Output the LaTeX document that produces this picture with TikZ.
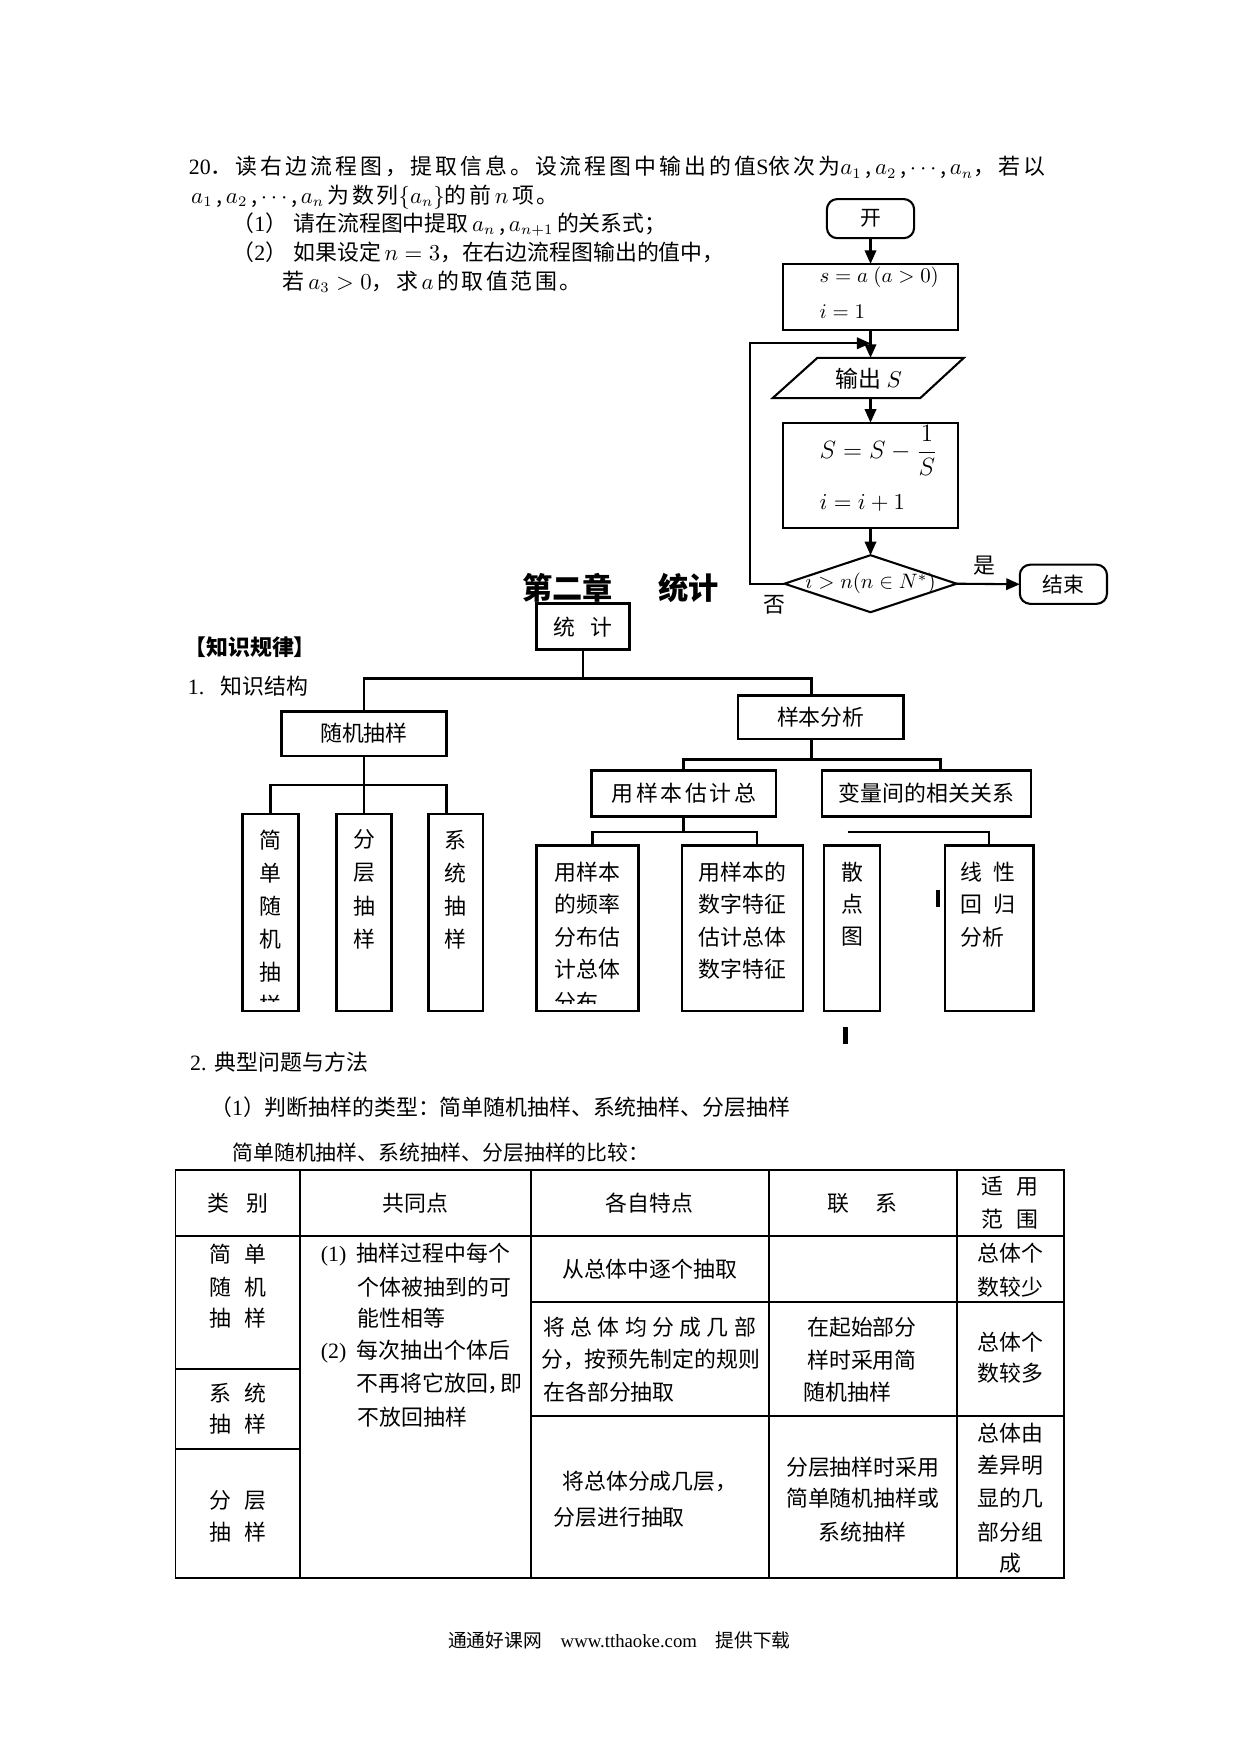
\documentclass[tikz,border=0pt]{standalone}
\usepackage{fontspec}
\setmainfont{Liberation Serif}
\newfontfamily\cjk{Noto Sans CJK SC}
\newfontfamily\cjkls[LetterSpace=12]{Noto Sans CJK SC}
\newfontfamily\cjklsw[LetterSpace=14]{Noto Sans CJK SC}
\usetikzlibrary{arrows.meta,shapes.geometric,calc}
\tikzset{
  bare/.style={inner sep=0pt, outer sep=0pt},
  sz/.style 2 args={minimum width=#1*0.5367pt, minimum height=#2*0.5367pt},
  para/.style={bare, anchor=west, font=\cjkls\fontsize{10.5}{12}\selectfont},
  zh/.style={bare, font=\cjk\fontsize{10.5}{12}\selectfont},
  zhw/.style={zh, anchor=west},
  cell/.style={bare, font=\cjk\fontsize{10.5}{12}\selectfont},
  cellw/.style={cell, anchor=west},
  flowbox/.style={draw, line width=1pt, bare, anchor=north west},
  treebox/.style={draw, line width=1.3pt, bare, anchor=north west, font=\cjk\fontsize{10.5}{12}\selectfont},
  treeline/.style={line width=1.3pt},
  flowarrow/.style={line width=1pt, -{Triangle[length=6.5pt,width=5.5pt]}},
  flowline/.style={line width=1pt},
  gridline/.style={line width=0.9pt},
  mathtext/.style={bare, font=\fontsize{10}{12}\selectfont},
}
\begin{document}
\begin{tikzpicture}[x=0.5367pt, y=-0.5367pt]
\fill[white] (0,0) rectangle (1109,1568.6);
\useasboundingbox (0,0) rectangle (1109,1568.6);

% ---------- problem text ----------
\node[para, font=\cjklsw\fontsize{10.5}{12}\selectfont] (q1) at (169,150) {{\rmfamily 20}．读右边流程图，提取信息。设流程图中输出的值{\rmfamily S}依次为$a_1$\,,\,$a_2$\,,\,$\cdots$\,,\,$a_n$，若以};
\node[para] (q2) at (171,176) {$a_1$\,,\,$a_2$\,,\,$\cdots$\,,\,$a_n$\,为数列$\{a_n\}$的前\,$n$\,项。};
\node[zhw] (q3) at (208,201) {（{\rmfamily 1}）\hspace{3pt}请在流程图中提取\,$a_n$\,,\,$a_{n+1}$\,的关系式；};
\node[zhw] (q4) at (208,226) {（{\rmfamily 2}）\hspace{3pt}如果设定\,$n=3$，在右边流程图输出的值中，};
\node[para] (q5) at (253,252) {若\,$a_3>0$，求\,$a$\,的取值范围。};

% ---------- flowchart ----------
\node[flowbox, rounded corners=5pt, sz={78}{35}, font=\cjk\fontsize{10}{12}\selectfont] (start) at (739.5,178) {开};
\node[flowbox, sz={157}{59}] (init) at (700,236) {};
\node[mathtext, anchor=west] (initA) at (733,248) {$s=a\ (a>0)$};
\node[mathtext, anchor=west] (initB) at (733,279) {$i=1$};
\node[bare, font=\cjk\fontsize{11}{12}\selectfont] (out) at (777,339) {输出\ $S$};
\draw[flowline] (731,320) -- (862,320) -- (823,356) -- (691,356) -- cycle;
\coordinate (outTop) at (778.5,320);
\coordinate (outBot) at (778.5,356);
\node[flowbox, sz={157}{94}] (upd) at (700,378) {};
\node[mathtext, anchor=west, font=\fontsize{11.5}{13}\selectfont] (updA) at (733,403) {$S=S-\displaystyle\frac{1}{S}$};
\node[mathtext, anchor=west, font=\fontsize{10.5}{12}\selectfont] (updB) at (733,450) {$i=i+1$};
\node[draw, diamond, line width=1pt, bare, sz={154}{51}] (test) at (778.5,522) {};
\node[bare, font=\fontsize{9.8}{11}\selectfont] (cond) at (778.5,522) {$i>n(n\in N^{*})$};
\node[flowbox, rounded corners=5pt, sz={78}{35}, font=\cjk\fontsize{10}{12}\selectfont] (stop) at (912,505) {结束};
\node[zh] (yes) at (880,506) {是};
\node[zh] (no) at (693,541) {否};
\coordinate (loopC) at (671,307);
\coordinate (loopIn) at (778.5,307);
\draw[flowarrow] (start.south) -- (init.north);
\draw[flowarrow] (init.south) -- (outTop);
\draw[flowarrow] (outBot) -- (upd.north);
\draw[flowarrow] (upd.south) -- (test.north);
\draw[flowarrow] (test.east) -- (stop.west);
\draw[flowarrow] (test.west) -| (loopC) -- (loopIn);

% ---------- headings ----------
\node[bare, anchor=west, font=\cjk\bfseries\fontsize{14.5}{16}\selectfont] (title) at (467,526) {第二章\hspace{1.5em}统计};
\node[bare, anchor=west, font=\cjk\bfseries\fontsize{10.5}{12}\selectfont] (kgl) at (165,579) {【知识规律】};
\node[zhw] (k1) at (168,614) {{\rmfamily 1.}\hspace{8pt}知识结构};

% ---------- knowledge tree ----------
\node[treebox, sz={83}{41}] (stat) at (480,540) {统\hspace{0.7em}计};
\node[treebox, sz={147}{40}] (rand) at (252,636) {随机抽样};
\node[treebox, sz={148}{39}] (anal) at (660,622) {样本分析};
\node[treebox, sz={165}{41}, font=\cjkls\fontsize{10.5}{12}\selectfont] (est) at (529,689) {用样本估计总};
\node[treebox, sz={187}{41}] (corr) at (735,689) {变量间的相关关系};
\node[treebox, sz={50}{176}] (simp) at (217,728) {};
\node[treebox, sz={49}{176}] (strat) at (301,728) {};
\node[treebox, sz={49}{176}] (syst) at (383,728) {};
\node[treebox, sz={91}{148}] (freq) at (480,756) {};
\node[treebox, sz={108}{148}] (num) at (610,756) {};
\node[treebox, sz={50}{148}] (scat) at (737,756) {};
\node[treebox, sz={79}{148}] (lin) at (845,756) {};

\begin{scope}
\clip (217,728) rectangle (267,896);
\foreach \c [count=\i] in {简,单,随,机,抽,样}
  \node[zh] (simp\i) at (242,{751+(\i-1)*29.5}) {\c};
\end{scope}
\foreach \c [count=\i] in {分,层,抽,样}
  \node[zh] (strat\i) at (325.5,{751+(\i-1)*29.5}) {\c};
\foreach \c [count=\i] in {系,统,抽,样}
  \node[zh] (syst\i) at (407.5,{751+(\i-1)*29.5}) {\c};
\begin{scope}
\clip (480,756) rectangle (571,897);
\foreach \c [count=\i] in {用样本,的频率,分布估,计总体,分布}
  \node[zhw] (freq\i) at (496,{780+(\i-1)*29}) {\c};
\end{scope}
\foreach \c [count=\i] in {用样本的,数字特征,估计总体,数字特征}
  \node[zhw] (num\i) at (625,{780+(\i-1)*29}) {\c};
\foreach \c [count=\i] in {散,点,图}
  \node[zh] (scat\i) at (762,{780+(\i-1)*29}) {\c};
\foreach \c [count=\i] in {线\hspace{0.5em}性,回\hspace{0.5em}归,分析}
  \node[zhw] (lin\i) at (859,{780+(\i-1)*29}) {\c};

\coordinate (topJ) at (521.5,607);
\draw[treeline] (stat.south) -- (topJ);
\draw[treeline] (rand.north) |- (topJ) -| ($(anal.north)+(-8,0)$);
\coordinate (randJ) at (325.5,702);
\draw[treeline] (rand.south) -- (strat.north);
\draw[treeline] (simp.north) |- (randJ) -| ($(syst.north)+(-8.5,0)$);
\coordinate (analJ) at (726,679);
\draw[treeline] ($(anal.south)+(-8,0)$) -- (analJ);
\draw[treeline] (est.north) |- (analJ) -| ($(corr.north)+(12.5,0)$);
\coordinate (estJ) at (611.5,744);
\draw[treeline] (est.south) -- (estJ);
\draw[treeline] ($(freq.north)+(4.5,0)$) |- (estJ) -| ($(num.north)+(13,0)$);
\coordinate (stubL) at (758,744);
\draw[treeline] (stubL) -| (lin.north);
\fill (837,796) rectangle (841,811);
\fill (754,918) rectangle (758,934);

% ---------- section 2 ----------
\node[zhw] (sec2) at (170,949.5) {{\rmfamily 2.}\hspace{4pt}典型问题与方法};
\node[zhw] (sec2a) at (188,990) {（{\rmfamily 1}）判断抽样的类型：简单随机抽样、系统抽样、分层抽样};
\node[zhw, font=\cjk\fontsize{10}{12}\selectfont] (cmp) at (208,1031) {简单随机抽样、系统抽样、分层抽样的比较：};

% ---------- table ----------
\draw[gridline] (157,1046) rectangle (951.5,1411.5);
\draw[gridline] (157,1105.5) -- (951.5,1105.5);
\draw[gridline] (157,1224) -- (268.5,1224);
\draw[gridline] (157,1296) -- (268.5,1296);
\draw[gridline] (475,1164) -- (951.5,1164);
\draw[gridline] (475,1266) -- (951.5,1266);
\foreach \x in {268.5,475,687.5,855.5} \draw[gridline] (\x,1046) -- (\x,1411.5);

\node[cell] (hType) at (213,1076) {类\hspace{0.8em}别};
\node[cell] (hCommon) at (371.5,1076) {共同点};
\node[cell] (hFeat) at (581,1076) {各自特点};
\node[cell] (hLink) at (771.5,1076) {联\hspace{1.2em}系};
\node[cell] (hScopeA) at (903.5,1061) {适\hspace{0.6em}用};
\node[cell] (hScopeB) at (903.5,1090.5) {范\hspace{0.6em}围};

\node[cell] (r1a) at (213,1122) {简\hspace{0.6em}单};
\node[cell] (r1b) at (213,1151) {随\hspace{0.6em}机};
\node[cell] (r1c) at (213,1179) {抽\hspace{0.6em}样};
\node[cell] (r2a) at (213,1246) {系\hspace{0.6em}统};
\node[cell] (r2b) at (213,1274) {抽\hspace{0.6em}样};
\node[cell] (r3a) at (213,1341.6) {分\hspace{0.6em}层};
\node[cell] (r3b) at (213,1370) {抽\hspace{0.6em}样};

\node[cellw] (c2a) at (287,1122) {{\rmfamily (1)}\hspace{5pt}抽样过程中每个};
\node[cellw] (c2b) at (320,1151) {个体被抽到的可};
\node[cellw] (c2c) at (320,1179) {能性相等};
\node[cellw] (c2d) at (287,1209) {{\rmfamily (2)}\hspace{5pt}每次抽出个体后};
\node[cellw] (c2e) at (319,1237) {不再将它放回，\hspace{-0.45em}即};
\node[cellw] (c2f) at (320,1267) {不放回抽样};

\node[cell] (c3a) at (581,1135) {从总体中逐个抽取};
\node[cellw] (c3b) at (486,1186.5) {\makebox[102pt]{将\hfill 总\hfill 体\hfill 均\hfill 分\hfill 成\hfill 几\hfill 部}};
\node[cellw] (c3c) at (484,1216) {分，按预先制定的规则};
\node[cellw] (c3d) at (486,1245) {在各部分抽取};
\node[cellw] (c3e) at (503,1325) {将总体分成几层，};
\node[cellw] (c3f) at (495,1356.5) {分层进行抽取};

\node[cellw] (c4a) at (722,1186.5) {在起始部分};
\node[cellw] (c4b) at (722,1216) {样时采用简};
\node[cellw] (c4c) at (719,1245) {随机抽样};
\node[cell] (c4d) at (771.5,1311.7) {分层抽样时采用};
\node[cell] (c4e) at (771.5,1340) {简单随机抽样或};
\node[cell] (c4f) at (771.5,1370) {系统抽样};

\node[cell] (c5a) at (903.5,1121) {总体个};
\node[cell] (c5b) at (903.5,1151) {数较少};
\node[cell] (c5c) at (903.5,1200) {总体个};
\node[cell] (c5d) at (903.5,1228) {数较多};
\node[cell] (c5e) at (903.5,1282) {总体由};
\node[cell] (c5f) at (903.5,1310) {差异明};
\node[cell] (c5g) at (903.5,1340) {显的几};
\node[cell] (c5h) at (903.5,1370) {部分组};
\node[cell] (c5i) at (903.5,1398) {成};

% ---------- footer ----------
\node[bare, font=\cjk\fontsize{9}{11}\selectfont] (foot) at (554,1467) {通通好课网\hspace{1em}{\rmfamily www.tthaoke.com}\hspace{1em}提供下载};
\end{tikzpicture}
\end{document}
